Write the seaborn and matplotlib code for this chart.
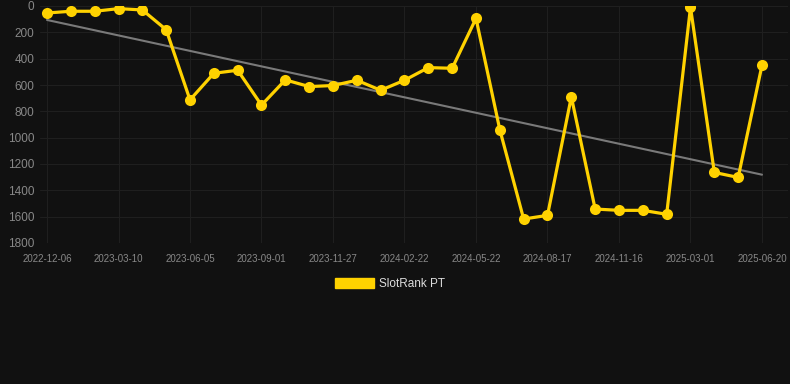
import numpy as np
import pandas as pd
import matplotlib
matplotlib.use("Agg")
import matplotlib.pyplot as plt
from matplotlib.patches import Patch
import seaborn as sns

# Data
ranks = [53, 40, 40, 20, 30, 180, 713, 511, 488, 753, 561, 612, 604, 564, 640,
         564, 468, 473, 94, 940, 1618, 1590, 690, 1542, 1552, 1552, 1582, 10,
         1264, 1302, 450]
tick_labels = ["2022-12-06", "2023-03-10", "2023-06-05", "2023-09-01", "2023-11-27",
               "2024-02-22", "2024-05-22", "2024-08-17", "2024-11-16", "2025-03-01",
               "2025-06-20"]
y_ticks = [0, 200, 400, 600, 800, 1000, 1200, 1400, 1600, 1800]
series_name = "SlotRank PT"

idx = np.arange(len(ranks))
df = pd.DataFrame({"idx": idx, "rank": ranks})

bg = "#111111"
gold = "#FFD200"
sns.set_theme(style="dark")
plt.rcParams["font.family"] = ["Liberation Sans", "DejaVu Sans"]

fig = plt.figure(figsize=(7.9, 3.84), dpi=100, facecolor=bg)
ax = fig.add_axes([40 / 790, 1 - 243 / 384, 748 / 790, (243 - 6) / 384])
ax.set_facecolor(bg)

# trend line
coef = np.polyfit(idx, ranks, 1)
trend = np.polyval(coef, idx)
sns.lineplot(x=idx, y=trend, ax=ax, color="#7a7a7a", linewidth=1.5, zorder=2)

sns.lineplot(data=df, x="idx", y="rank", ax=ax, color=gold, linewidth=2.3,
             marker="o", markersize=8, markeredgewidth=0, zorder=3)

ax.set_xlim(-7 / 23.83, 30 + 26 / 23.83)
ax.set_ylim(1800, 0)
ax.set_yticks(y_ticks)
ax.set_yticklabels([str(v) for v in y_ticks])
ax.set_xticks(idx[::3])
ax.set_xticklabels(tick_labels)
ax.grid(True, color="#1f1f1f", linewidth=0.8)
ax.set_axisbelow(True)
for s in ax.spines.values():
    s.set_visible(False)
ax.tick_params(axis="y", colors="#888888", labelsize=8.5, length=0, pad=4)
ax.tick_params(axis="x", colors="#888888", labelsize=7, length=4, color="#1f1f1f", pad=4)
ax.set_xlabel("")
ax.set_ylabel("")

handle = Patch(facecolor=gold, edgecolor=gold, label=series_name)
fig.legend(handles=[handle], loc="center", bbox_to_anchor=(390 / 790, 1 - 284 / 384),
           frameon=False, fontsize=8.5, labelcolor="#dddddd",
           handlelength=3.3, handleheight=1.0, handletextpad=0.5)

fig.savefig("out.png", dpi=100, facecolor=bg)
